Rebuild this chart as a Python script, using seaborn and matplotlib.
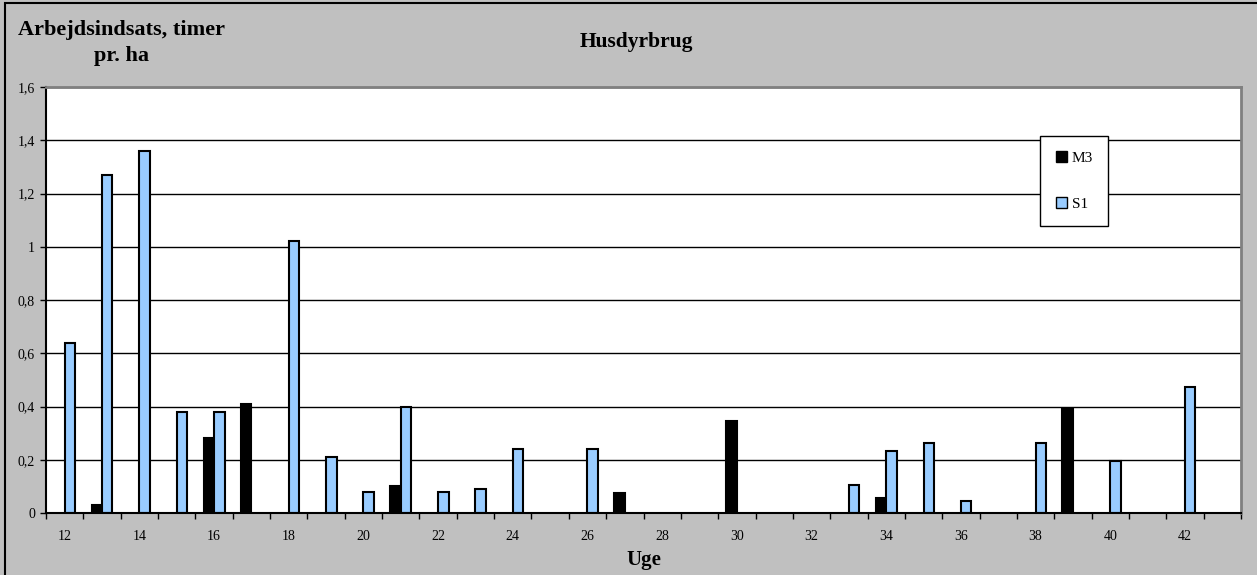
""" Husdyrbrug: arbejdsindsats pr. uge, M3 mod S1 """
import numpy as np
import pandas as pd
import matplotlib
matplotlib.use("Agg")
import matplotlib.pyplot as plt
from matplotlib.patches import Rectangle
from matplotlib.ticker import FuncFormatter
import seaborn as sns

weeks = list(range(12, 44))
m3 = [0, 0.03, 0, 0, 0.28, 0.41, 0, 0, 0, 0.10, 0, 0, 0, 0, 0, 0.075,
      0, 0, 0.345, 0, 0, 0, 0.055, 0, 0, 0, 0, 0.39, 0, 0, 0, 0]
s1 = [0.64, 1.27, 1.36, 0.38, 0.38, 0, 1.02, 0.21, 0.08, 0.40, 0.08, 0.09,
      0.24, 0, 0.24, 0, 0, 0, 0, 0, 0, 0.105, 0.234, 0.263, 0.045, 0, 0.263,
      0, 0.194, 0, 0.472, 0]
series = ["M3", "S1"]
colors = {"M3": "#000000", "S1": "#99ccff"}
y_ticks = [0, 0.2, 0.4, 0.6, 0.8, 1.0, 1.2, 1.4, 1.6]

df = pd.DataFrame({"Uge": weeks, "M3": m3, "S1": s1})
df = df.melt(id_vars="Uge", var_name="Serie", value_name="Timer")
df = df[df["Timer"] > 0]

sns.set_style("ticks")
plt.rcParams["font.family"] = ["Liberation Serif", "DejaVu Serif"]
for key in ["text.color", "axes.labelcolor", "xtick.color", "ytick.color"]:
    plt.rcParams[key] = "black"

grey = "#c0c0c0"
fig = plt.figure(figsize=(12.57, 5.75), dpi=100, facecolor=grey)
ax = fig.add_axes([46 / 1257, 62 / 575, 1195 / 1257, 426 / 575])
ax.set_facecolor("white")

sns.barplot(data=df, x="Uge", y="Timer", hue="Serie", order=weeks,
            hue_order=series, palette=colors, width=0.56,
            edgecolor="black", linewidth=1.5, saturation=1, ax=ax)

ax.set_xlim(-0.5, len(weeks) - 0.5)
ax.set_ylim(0, 1.6)
ax.set_yticks(y_ticks)
ax.yaxis.set_major_formatter(FuncFormatter(lambda v, p: f"{v:g}".replace(".", ",")))
ax.tick_params(axis="y", length=4, width=1, labelsize=10, color="black", pad=4)
ax.yaxis.grid(True, color="black", linewidth=1)
ax.set_axisbelow(True)

ax.set_xticks(range(0, len(weeks), 2))
ax.set_xticklabels([str(w) for w in weeks[::2]])
ax.set_xticks(np.arange(-0.5, len(weeks), 1), minor=True)
ax.tick_params(axis="x", which="major", length=0, labelsize=10, pad=12)
ax.tick_params(axis="x", which="minor", length=4, width=1, color="black")

for side in ["left", "bottom"]:
    ax.spines[side].set_color("black")
    ax.spines[side].set_linewidth(1.5)
for side in ["top", "right"]:
    ax.spines[side].set_color("#808080")
    ax.spines[side].set_linewidth(2)

ax.set_xlabel("Uge", fontsize=15, fontweight="bold", labelpad=5)
ax.set_ylabel("")

leg = ax.legend(loc="upper left", bbox_to_anchor=(0.832, 0.885), frameon=True,
                fancybox=False, edgecolor="black", fontsize=11,
                handlelength=0.75, handleheight=0.75, handletextpad=0.3,
                labelspacing=2.1, borderpad=1.0, borderaxespad=0)
leg.get_frame().set_linewidth(1)
leg.get_frame().set_facecolor("white")
leg.get_frame().set_alpha(1)
for h in leg.legend_handles:
    h.set_edgecolor("black")
    h.set_linewidth(1)

fig.text(636 / 1257, 1 - 42 / 575, "Husdyrbrug", ha="center", va="center",
         fontsize=15.5, fontweight="bold")
fig.text(122 / 1257, 1 - 43 / 575, "Arbejdsindsats, timer\npr. ha", ha="center",
         va="center", fontsize=16, fontweight="bold", linespacing=1.45)

fig.patches.append(Rectangle((5 / 1257, -0.01), 1.02, 1 - 3 / 575 + 0.01,
                             transform=fig.transFigure, fill=False,
                             edgecolor="black", linewidth=1.5, zorder=0))

fig.savefig("out.png", dpi=100, facecolor=grey)
